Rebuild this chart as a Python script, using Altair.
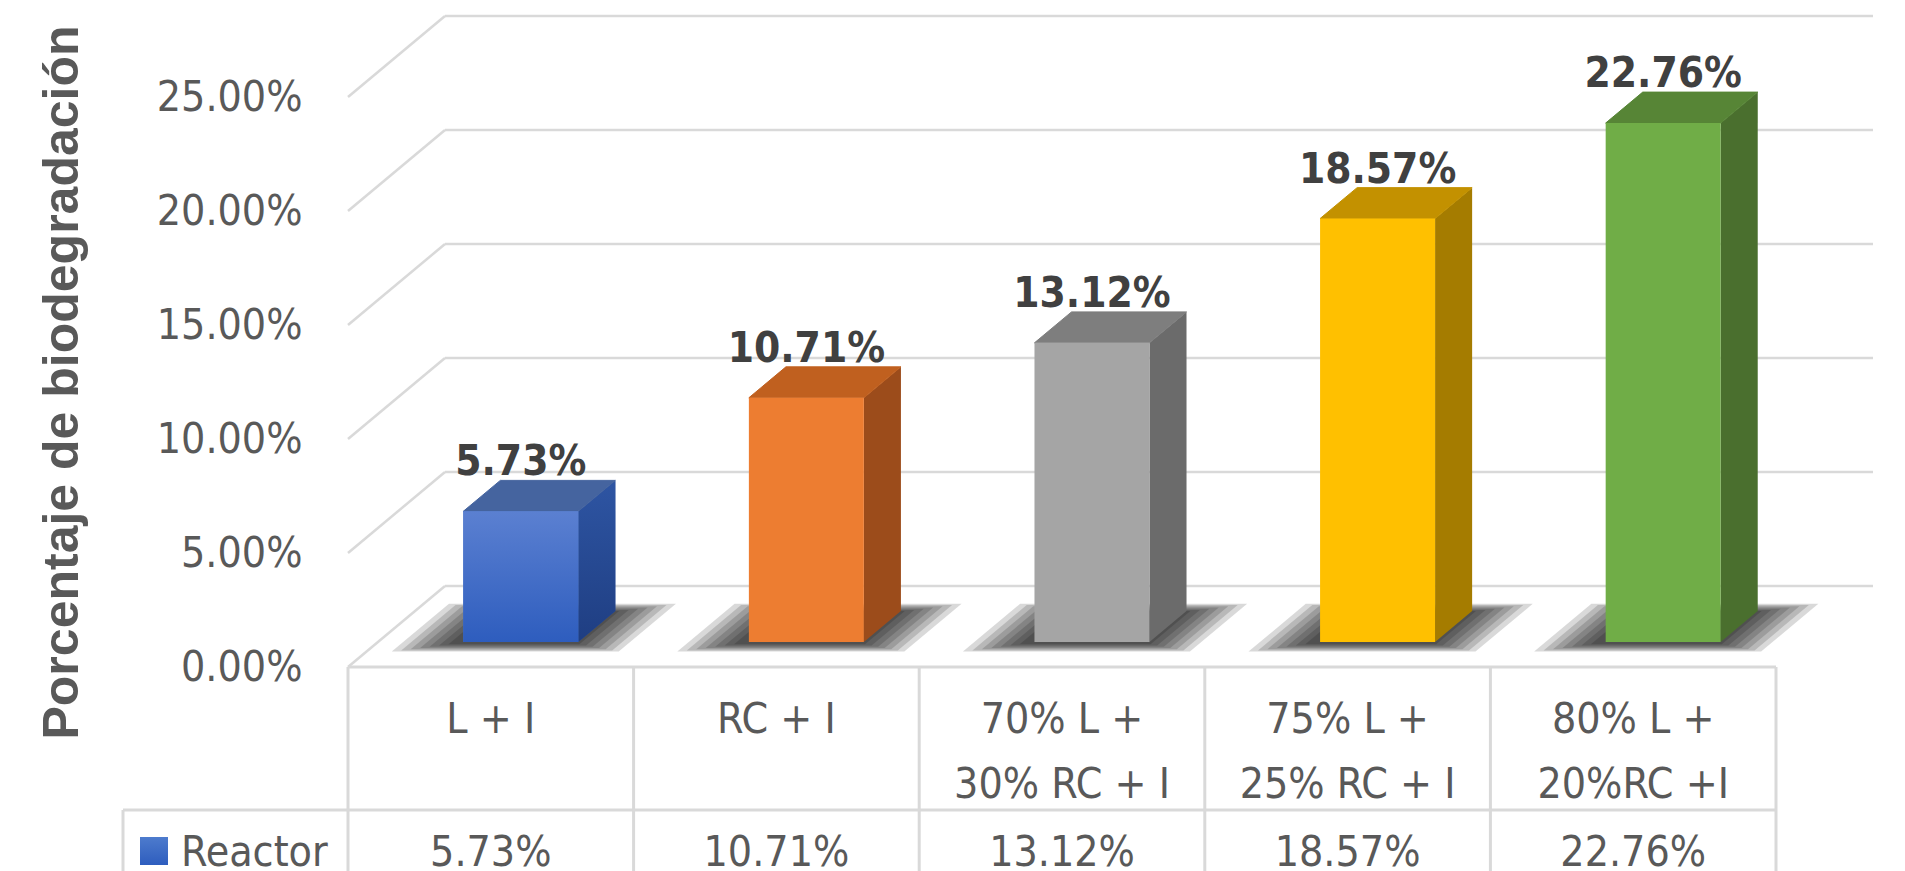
import altair as alt
import pandas as pd

# ---- data -------------------------------------------------------------
categories = ["L + I", "RC + I", "70% L +\n30% RC + I", "75% L +\n25% RC + I", "80% L +\n20%RC +I"]
values = [5.73, 10.71, 13.12, 18.57, 22.76]
front_colors = ["#4472C4", "#ED7D31", "#A5A5A5", "#FFC000", "#70AD47"]
side_colors = ["#2A4E99", "#9C4C1B", "#6B6B6B", "#A57C00", "#4A6F2E"]
top_colors = ["#45649F", "#C0601F", "#7E7E7E", "#C39100", "#578536"]
y_ticks = [0, 5, 10, 15, 20, 25]
series_name = "Reactor"
y_title = "Porcentaje de biodegradación"

# ---- layout (pixels) --------------------------------------------------
W, H = 1905, 871
LEFT = 348            # front-left corner of the floor
FLOOR_Y = 667         # front edge of the floor (0 %)
PX_CAT = 285.6        # width of one category column
PX_PCT = 22.8         # pixels per percentage point
DEPTH_X_PX, DEPTH_Y_PX = 97, 81   # oblique depth of the floor
BAR_W_PX = 115

N = len(categories)
DX = DEPTH_X_PX / PX_CAT
DY = DEPTH_Y_PX / PX_PCT
X_DOMAIN = [0, (W - LEFT) / PX_CAT]
Y_DOMAIN = [-(H - FLOOR_Y) / PX_PCT, FLOOR_Y / PX_PCT]
YMIN = Y_DOMAIN[0]
F0, F1 = 0.309, 0.691  # depth of the bars' front and back faces
BAR_W = BAR_W_PX / PX_CAT


def cols(px):
    """horizontal pixel offset from the floor's left corner -> x units"""
    return px / PX_CAT


def below(px):
    """pixels below the floor's front edge -> y units"""
    return -px / PX_PCT


NARROW = "DejaVu Sans Condensed, Liberation Sans Narrow, DejaVu Sans"
TXT = "#595959"
LINE = "#D9D9D9"
FS = 42.5

XS = alt.Scale(domain=X_DOMAIN, nice=False, zero=False)
YS = alt.Scale(domain=Y_DOMAIN, nice=False, zero=False)

y_axis = alt.Axis(values=y_ticks, labelExpr="format(datum.value / 100, '.2%')",
                  labelFont=NARROW, labelFontSize=FS, labelColor=TXT, labelPadding=46,
                  ticks=False, domain=False, grid=False,
                  title=y_title, titleFont="Liberation Sans", titleFontSize=50,
                  titleFontWeight="bold", titleColor=TXT, titleAngle=270,
                  titleX=-271, titleY=382, titleAlign="center", titleBaseline="alphabetic")


def X(f):
    return alt.X(f, type="quantitative", scale=XS, axis=None, stack=None)


def Y(f):
    return alt.Y(f, type="quantitative", scale=YS, axis=y_axis, stack=None,
                 title=y_title)


keys = [f"c{i}" for i in range(N)]

# ---- geometry derived from the values ----------------------------------
front_rows, side_rows, top_rows, label_rows, shadow_rows = [], [], [], [], []
for i, v in enumerate(values):
    L0 = i + 0.5 - BAR_W / 2
    R0 = L0 + BAR_W
    k = keys[i]
    front_rows.append(dict(key=k, x=L0 + F0 * DX, x2=R0 + F0 * DX, y=F0 * DY, y2=v + F0 * DY))
    for f in (F0, F1):
        side_rows.append(dict(key=k, x=R0 + f * DX, lo=f * DY, hi=v + f * DY))
        top_rows.append(dict(key=k, y=v + f * DY, xa=L0 + f * DX, xb=R0 + f * DX))
    label_rows.append(dict(key=k, x=(L0 + R0) / 2 + F0 * DX, y=v + F1 * DY, text=f"{v:.2f}%"))
    # soft floor shadow: nested parallelograms, darkest at the core
    for s in range(7):
        ff, fb = 0.19 + 0.015 * s, 0.78 - 0.015 * s
        xa, xb = L0 - cols(60 - 8 * s), R0 + cols(52 - 8 * s)
        shadow_rows.append(dict(sid=f"{i}-{s}", y=ff * DY, xa=xa + ff * DX, xb=xb + ff * DX))
        shadow_rows.append(dict(sid=f"{i}-{s}", y=fb * DY, xa=xa + fb * DX, xb=xb + fb * DX))

front_df = pd.DataFrame(front_rows)
side_df = pd.DataFrame(side_rows)
top_df = pd.DataFrame(top_rows)
label_df = pd.DataFrame(label_rows)
shadow_df = pd.DataFrame(shadow_rows)

grid_df = pd.DataFrame({"x": DX, "x2": N + DX, "y": [t + DY for t in y_ticks]})
diag_df = pd.DataFrame({"x": 0.0, "x2": DX, "y": y_ticks, "y2": [t + DY for t in y_ticks]})

ROW2 = below(143)
REACTOR_LEFT = cols(123 - LEFT)
hline_df = pd.DataFrame({"x": [0.0, REACTOR_LEFT], "x2": [N, N], "y": [0.0, ROW2]})
vline_df = pd.DataFrame({"x": list(range(N + 1)) + [REACTOR_LEFT],
                         "y": [0.0] * (N + 1) + [ROW2],
                         "y2": [YMIN] * (N + 2)})

cat_df = pd.DataFrame({"x": [i + 0.5 for i in range(N)], "y": below(66), "text": categories})
val_df = pd.DataFrame({"x": [i + 0.5 for i in range(N)], "y": below(199),
                       "text": [f"{v:.2f}%" for v in values]})
legend_df = pd.DataFrame({"x": [cols(140 - LEFT)], "x2": [cols(168 - LEFT)],
                          "y": [below(170)], "y2": [below(198)]})
name_df = pd.DataFrame({"x": [cols(181 - LEFT)], "y": [below(199)], "text": [series_name]})


def grad(c0, c1):
    return alt.LinearGradient(gradient="linear", x1=0, x2=0, y1=0, y2=1,
                              stops=[alt.GradientStop(color=c0, offset=0),
                                     alt.GradientStop(color=c1, offset=1)])


# ---- layers --------------------------------------------------------------
grid = alt.Chart(grid_df).mark_rule(color=LINE, strokeWidth=2.5).encode(
    x=X("x"), x2="x2", y=Y("y"))
diag = alt.Chart(diag_df).mark_rule(color=LINE, strokeWidth=2.5).encode(
    x=X("x"), x2="x2", y=Y("y"), y2="y2")
hlines = alt.Chart(hline_df).mark_rule(color=LINE, strokeWidth=3).encode(
    x=X("x"), x2="x2", y=Y("y"))
vlines = alt.Chart(vline_df).mark_rule(color=LINE, strokeWidth=3).encode(
    x=X("x"), y=Y("y"), y2="y2")

shadow = alt.Chart(shadow_df).mark_area(orient="horizontal", color="black", opacity=0.15).encode(
    y=Y("y"), x=X("xa"), x2="xb", detail="sid:N")

fronts = alt.Chart(front_df).mark_rect().encode(
    x=X("x"), x2="x2", y=Y("y"), y2="y2",
    color=alt.Color("key:N", scale=alt.Scale(domain=keys, range=front_colors), legend=None))
sides = alt.Chart(side_df).mark_area(orient="vertical").encode(
    x=X("x"), y=Y("lo"), y2="hi", detail="key:N",
    fill=alt.Fill("key:N", scale=alt.Scale(domain=keys, range=side_colors), legend=None))
tops = alt.Chart(top_df).mark_area(orient="horizontal").encode(
    y=Y("y"), x=X("xa"), x2="xb", detail="key:N",
    stroke=alt.Stroke("key:N", scale=alt.Scale(domain=keys, range=top_colors), legend=None),
    fill=alt.Fill("key:N", scale=alt.Scale(domain=keys, range=top_colors), legend=None))

blue_front = alt.Chart(front_df[front_df.key == "c0"]).mark_rect(
    fill=grad("#5B80D1", "#2E5DBE")).encode(x=X("x"), x2="x2", y=Y("y"), y2="y2")
blue_side = alt.Chart(side_df[side_df.key == "c0"]).mark_area(
    orient="vertical", fill=grad("#2E55A3", "#1F3E82")).encode(x=X("x"), y=Y("lo"), y2="hi")

labels = alt.Chart(label_df).mark_text(
    font=NARROW, fontSize=42, fontWeight="bold", color="#404040",
    baseline="alphabetic", dy=-5).encode(x=X("x"), y=Y("y"), text="text:N")

cat_text = alt.Chart(cat_df).mark_text(
    font=NARROW, fontSize=FS, color=TXT, baseline="alphabetic", lineBreak="\n", lineHeight=65
).encode(x=X("x"), y=Y("y"), text="text:N")
val_text = alt.Chart(val_df).mark_text(
    font=NARROW, fontSize=FS, color=TXT, baseline="alphabetic"
).encode(x=X("x"), y=Y("y"), text="text:N")
legend_key = alt.Chart(legend_df).mark_rect(fill=grad("#4D7BCD", "#2E5DBE")).encode(
    x=X("x"), x2="x2", y=Y("y"), y2="y2")
name_text = alt.Chart(name_df).mark_text(
    font=NARROW, fontSize=FS, color=TXT, baseline="alphabetic", align="left"
).encode(x=X("x"), y=Y("y"), text="text:N")

chart = alt.layer(
    grid, diag, hlines, vlines, shadow, sides, blue_side, tops, fronts, blue_front,
    labels, cat_text, val_text, legend_key, name_text
).resolve_scale(
    color="independent", fill="independent", stroke="independent"
).properties(
    width=W - LEFT, height=H, autosize="none",
    padding={"left": LEFT, "top": 0, "right": 0, "bottom": 0},
    background="white",
).configure_view(stroke=None)

chart.save("out.html", embed_options={"renderer": "svg", "actions": False})
